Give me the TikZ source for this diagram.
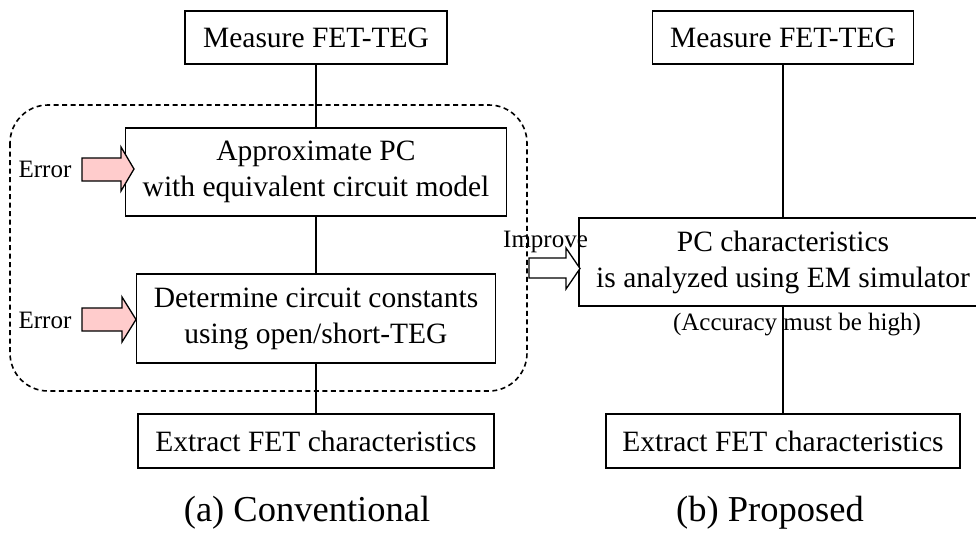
\documentclass[tikz,border=0pt]{standalone}
\usepackage{fontspec}
\setmainfont{Liberation Serif}
\begin{document}
\begin{tikzpicture}[x=1pt,y=-1pt,
  box/.style={draw,line width=1.5pt,inner sep=0pt,align=center,
    font=\fontsize{29.5}{36}\selectfont},
  small/.style={inner sep=0pt,font=\fontsize{25}{30}\selectfont},
  captext/.style={inner sep=0pt,font=\fontsize{36.5}{42}\selectfont},
  link/.style={line width=1.4pt},
  errarrow/.style={draw,line width=1.3pt,fill=red!20,line join=miter},
  imparrow/.style={draw,line width=1.3pt,fill=white,line join=miter}]
\useasboundingbox (0,0) rectangle (976,533);
% dashed group
\draw[line width=1.6pt,dash pattern=on 5pt off 3.5pt,rounded corners=38pt] (10,105) rectangle (527,391);
% left column
\node[box,minimum width=262,minimum height=53] (m1) at (316,37.5) {Measure FET-TEG};
\node[box,minimum width=381,minimum height=88] (ap) at (316,172) {Approximate PC\\with equivalent circuit model};
\node[box,minimum width=359,minimum height=89] (dt) at (316,318.5) {Determine circuit constants\\using open/short-TEG};
\node[box,minimum width=356,minimum height=54] (ex1) at (316,441) {Extract FET characteristics};
\draw[link] (m1) -- (ap);
\draw[link] (ap) -- (dt);
\draw[link] (dt) -- (ex1);
% right column
\node[box,minimum width=261,minimum height=53] (m2) at (783,37.5) {Measure FET-TEG};
\node[box,minimum width=408,minimum height=88] (pc) at (783,262) {PC characteristics\\is analyzed using EM simulator};
\node[box,minimum width=354,minimum height=54] (ex2) at (783,441) {Extract FET characteristics};
\draw[link] (m2) -- (pc);
\draw[link] (pc) -- (ex2);
\node[small] (acc) at (797,325) {(Accuracy must be high)};
% error arrows
\node[small,anchor=base] (e1) at (45,177) {Error};
\node[small,anchor=base] (e2) at (45,328) {Error};
\draw[errarrow] (82,158) -- (121,158) -- (121,147) -- (134,169) -- (121,191) -- (121,181) -- (82,181) -- cycle;
\draw[errarrow] (82,308) -- (122,308) -- (122,297) -- (136,319.5) -- (122,342) -- (122,331) -- (82,331) -- cycle;
% improve arrow
\node[small,anchor=base west] (imp) at (503,247) {Improve};
\draw[imparrow] (529,258) -- (566,258) -- (566,248) -- (580,268.5) -- (566,289) -- (566,278) -- (529,278) -- cycle;
% captions
\node[captext] (ca) at (307,513) {(a) Conventional};
\node[captext] (cb) at (770,513) {(b) Proposed};
\end{tikzpicture}
\end{document}
